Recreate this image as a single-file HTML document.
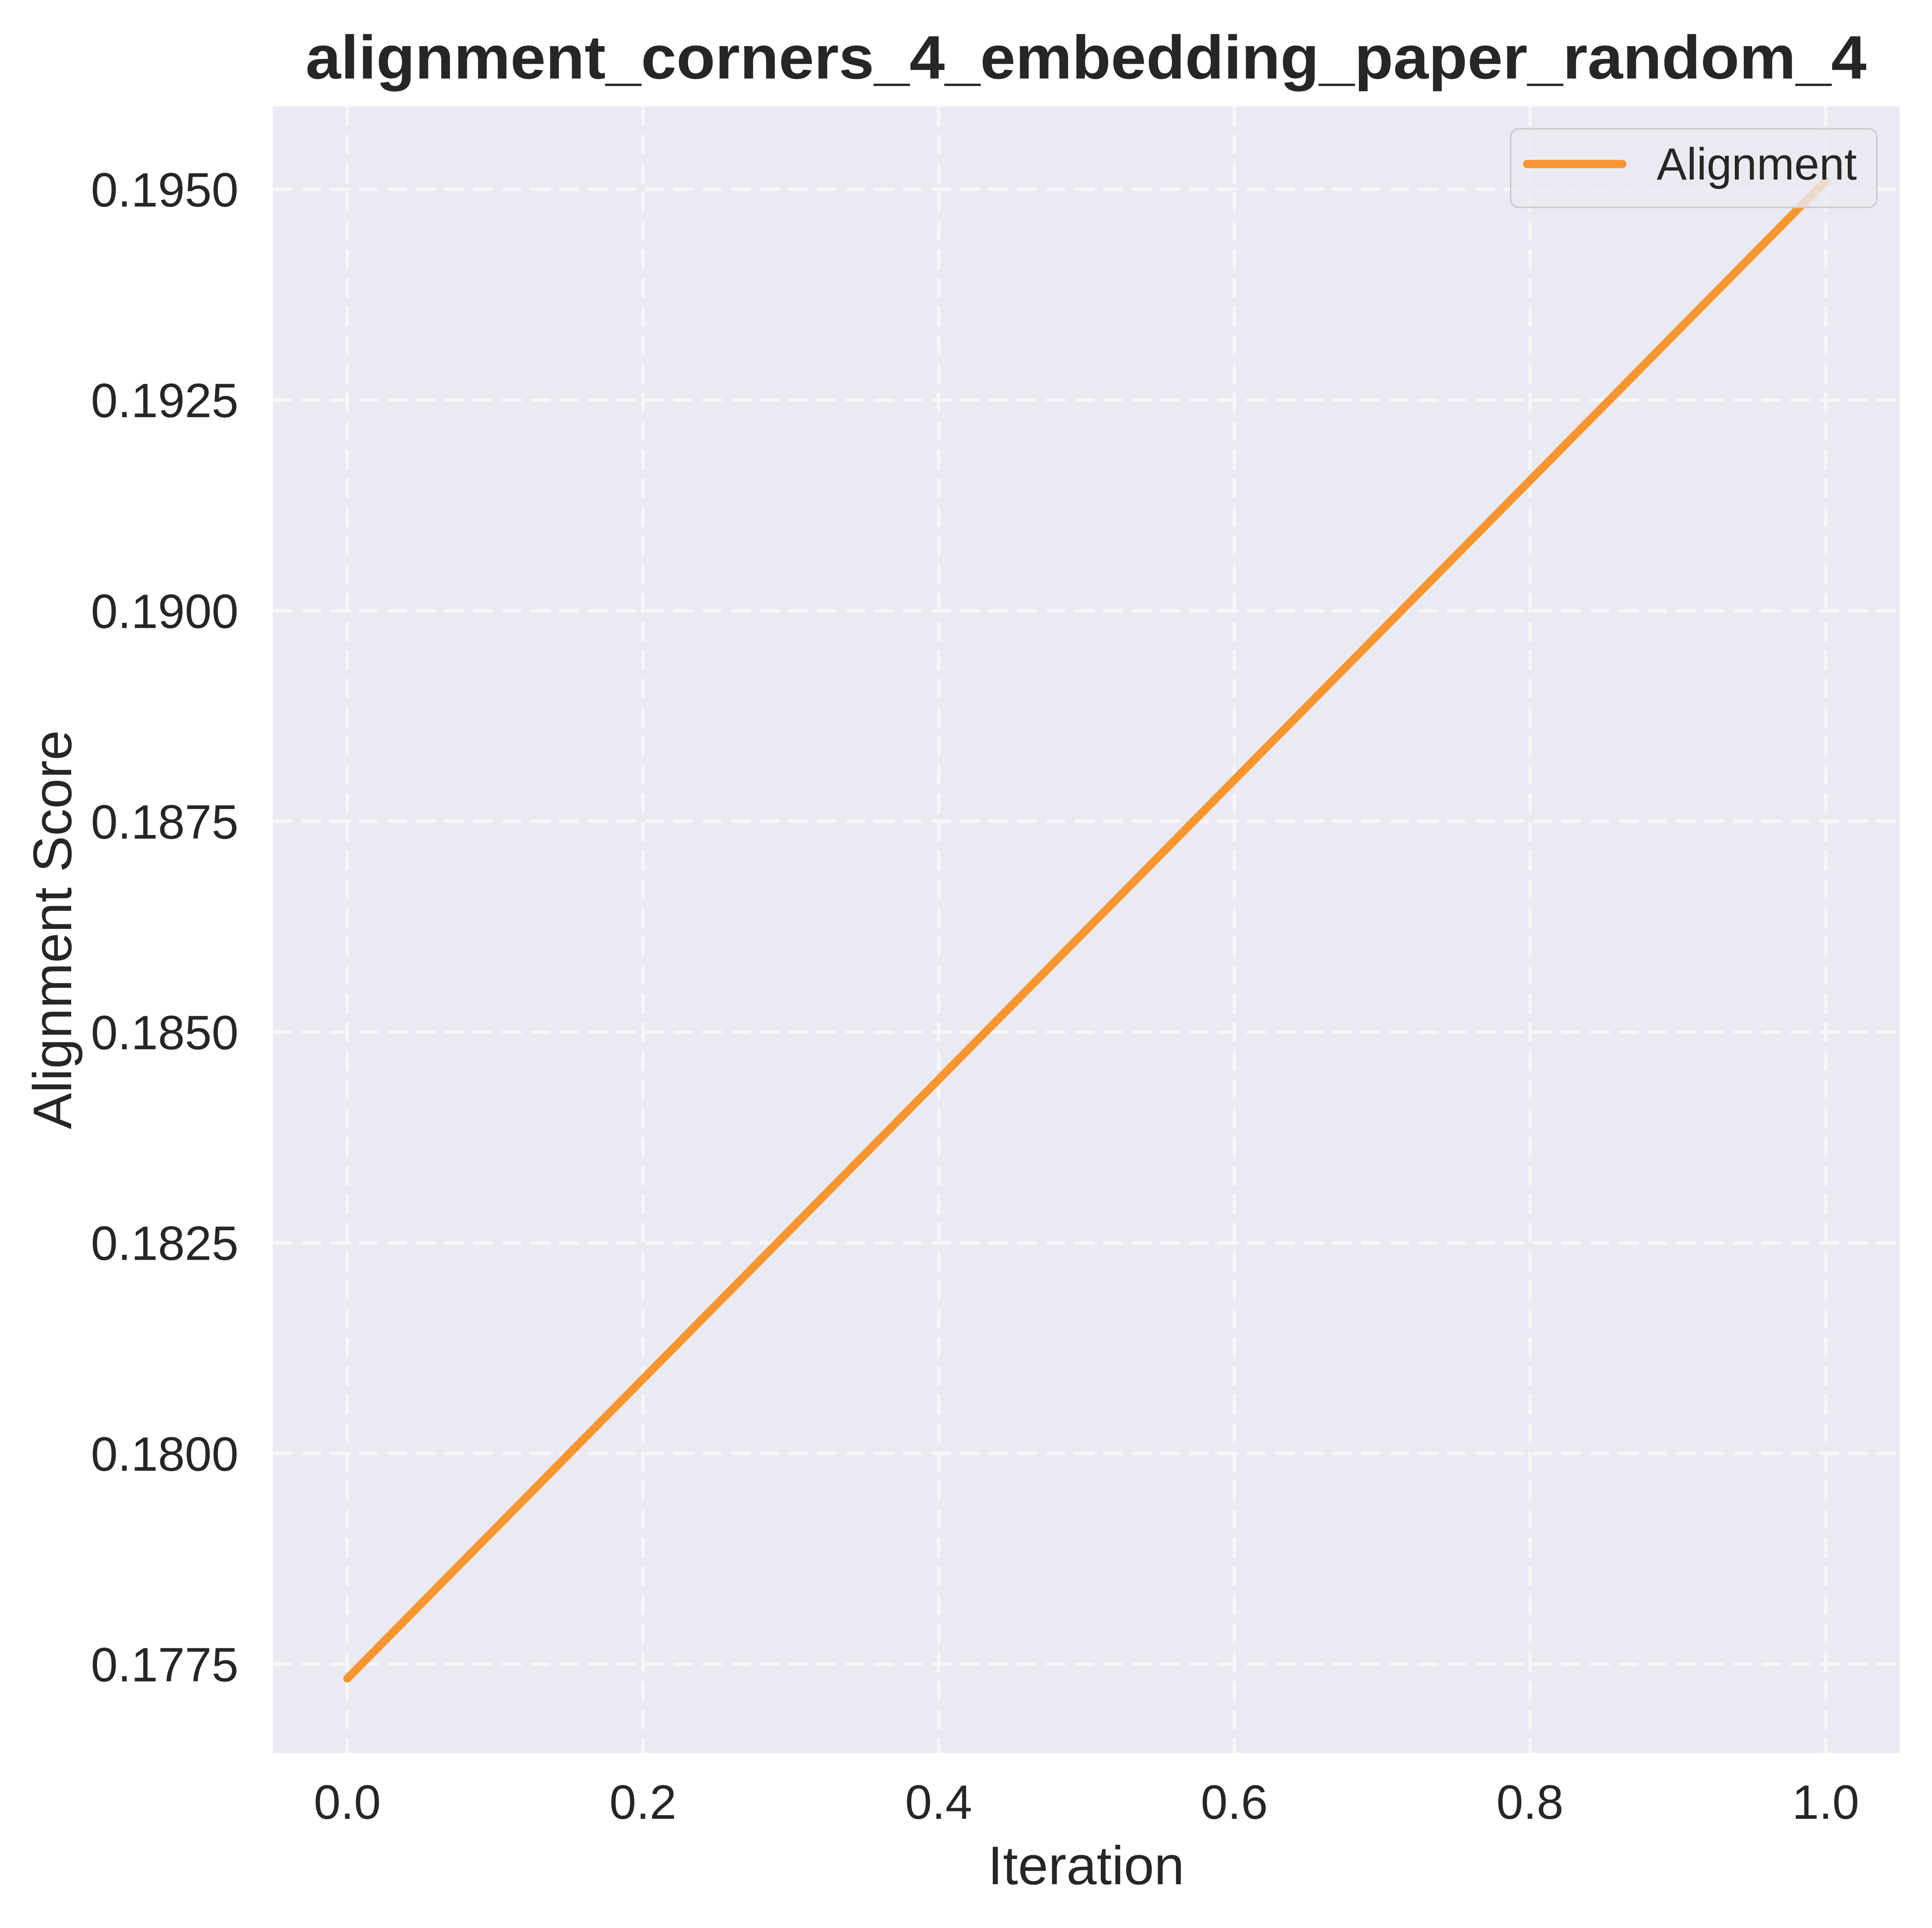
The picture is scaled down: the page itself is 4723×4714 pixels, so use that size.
<!DOCTYPE html>
<html><head><meta charset="utf-8"><style>html,body{margin:0;padding:0;background:#fff}svg{display:block}text{font-family:"Liberation Sans",Arial,sans-serif;fill:#262626}</style></head>
<body>
<svg id="chart" width="4723" height="4714" viewBox="0 0 4723 4714" xmlns="http://www.w3.org/2000/svg">
<rect x="667" y="260" width="3977" height="4026" fill="#eaeaf2"/>
<g id="grid"></g>
<g id="ticks"></g>
<g id="series"></g>
<text x="2655" y="192" text-anchor="middle" font-size="150" font-weight="bold" textLength="3816" lengthAdjust="spacingAndGlyphs">alignment_corners_4_embedding_paper_random_4</text>
<text x="2655" y="4607" text-anchor="middle" font-size="133">Iteration</text>
<text x="174" y="2273" text-anchor="middle" font-size="133" transform="rotate(-90 174 2273)">Alignment Score</text>
<g>
<rect x="3693" y="315" width="895" height="192" rx="20" fill="#eaeaf2" fill-opacity="0.8" stroke="#cccccc" stroke-width="4"/>
<line x1="3733" y1="401" x2="3966" y2="401" stroke="#f7962f" stroke-width="20" stroke-linecap="round"/>
<text x="4050" y="439" font-size="110">Alignment</text>
</g>
</svg>
<script>
const iterations = [0, 1];
const alignment = [0.17733, 0.19510];
const xTicks = [0.0, 0.2, 0.4, 0.6, 0.8, 1.0];
const xTickLabels = ["0.0", "0.2", "0.4", "0.6", "0.8", "1.0"];
const yTicks = [0.1775, 0.1800, 0.1825, 0.1850, 0.1875, 0.1900, 0.1925, 0.1950];
const yTickLabels = ["0.1775", "0.1800", "0.1825", "0.1850", "0.1875", "0.1900", "0.1925", "0.1950"];

const NS = "http://www.w3.org/2000/svg";
function xs(v){ return 849 + (v - 0) * (4463 - 849); }
function ys(v){ return 4069 + (v - 0.1775) * (463 - 4069) / (0.1950 - 0.1775); }
const grid = document.getElementById('grid');
const ticks = document.getElementById('ticks');
const series = document.getElementById('series');

xTicks.forEach((t, i) => {
  const l = document.createElementNS(NS, 'line');
  
  
  l.setAttribute('x1', xs(t)); l.setAttribute('x2', xs(t));
  l.setAttribute('y1', 260); l.setAttribute('y2', 4286);
  l.setAttribute('stroke', '#f7f7f9'); l.setAttribute('stroke-width', 9);
  l.setAttribute('stroke-dasharray', '48 22');
  grid.appendChild(l);
  const tx = document.createElementNS(NS, 'text');
  
  
  tx.setAttribute('x', xs(t)); tx.setAttribute('y', 4447);
  tx.setAttribute('text-anchor', 'middle'); tx.setAttribute('font-size', 118);
  tx.textContent = xTickLabels[i];
  ticks.appendChild(tx);
});
yTicks.forEach((t, i) => {
  const l = document.createElementNS(NS, 'line');
  
  
  l.setAttribute('x1', 667); l.setAttribute('x2', 4644);
  l.setAttribute('y1', ys(t)); l.setAttribute('y2', ys(t));
  l.setAttribute('stroke', '#f7f7f9'); l.setAttribute('stroke-width', 9);
  l.setAttribute('stroke-dasharray', '48 22');
  grid.appendChild(l);
  const tx = document.createElementNS(NS, 'text');
  
  
  tx.setAttribute('x', 583); tx.setAttribute('y', ys(t) + 42);
  tx.setAttribute('text-anchor', 'end'); tx.setAttribute('font-size', 118);
  tx.textContent = yTickLabels[i];
  ticks.appendChild(tx);
});
const pts = iterations.map((x, i) => xs(x) + ',' + ys(alignment[i])).join(' ');
const pl = document.createElementNS(NS, 'polyline');


pl.setAttribute('points', pts);
pl.setAttribute('fill', 'none'); pl.setAttribute('stroke', '#f7962f');
pl.setAttribute('stroke-width', 20); pl.setAttribute('stroke-linecap', 'round');
series.appendChild(pl);
</script>
</body></html>
